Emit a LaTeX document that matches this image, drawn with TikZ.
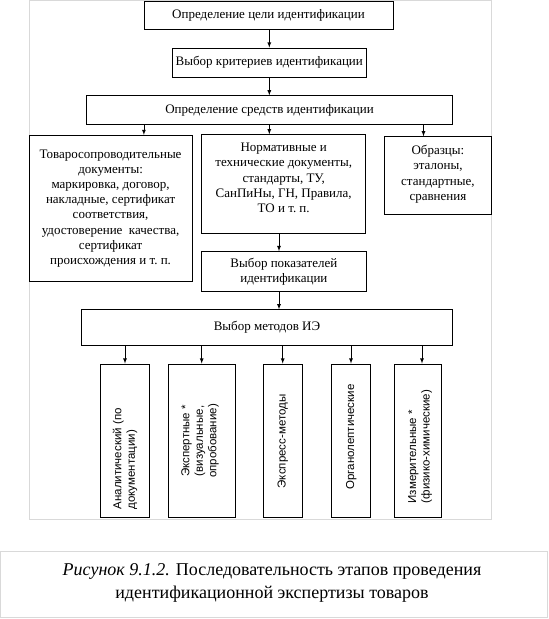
\documentclass[tikz,border=0pt]{standalone}
\usepackage{fontspec}
\setmainfont{Liberation Serif}
\newfontfamily\sansf{Liberation Sans}
\usetikzlibrary{positioning}
\tikzset{
  box/.style={draw,line width=.9pt,align=center,inner sep=2pt,
    font=\fontsize{13}{15.2}\selectfont},
  vbox/.style={draw,line width=.9pt,minimum height=153.5pt},
  vtext/.style={rotate=90,font=\sansf\fontsize{11.5}{13.5}\selectfont},
  frame/.style={draw=black!15,line width=.8pt}
}
\begin{document}
\begin{tikzpicture}[>=latex,x=1pt,y=-1pt,line width=.8pt]
  \useasboundingbox (0,0) rectangle (549,619);
  \draw[frame] (29,.5) rectangle (491.5,519);
  \draw[frame] (.5,551.5) rectangle (547.5,617);
  % upper chain
  \node[box,minimum width=249pt,minimum height=28pt] (goal) at (268.5,15.8) {Определение цели идентификации};
  \node[box,minimum width=193.4pt,minimum height=29.2pt] (crit) at (269.3,62.6) {Выбор критериев идентификации};
  \node[box,minimum width=366.3pt,minimum height=28.8pt] (means) at (269.5,110.2) {Определение средств идентификации};
  \draw[->] (goal.south -| crit.south) -- (crit.north);
  \draw[->] (crit.south) -- (means.north -| crit.south);
  % means of identification
  \node[box,minimum width=163.3pt,minimum height=146pt] (docs) at (110.6,208.4) {Товаросопроводительные\\документы:\\маркировка, договор,\\накладные, сертификат\\соответствия,\\удостоверение~ качества,\\сертификат\\происхождения и т.~п.};
  \node[box,minimum width=163.8pt,minimum height=98.3pt,text depth=12pt] (norm) at (283.7,183.9) {Нормативные и\\технические документы,\\стандарты, ТУ,\\СанПиНы, ГН, Правила,\\ТО и т.~п.};
  \node[box,minimum width=106.6pt,minimum height=77.2pt,text depth=5pt] (samp) at (437.9,175.4) {Образцы:\\эталоны,\\стандартные,\\сравнения};
  \coordinate (c1) at (143.9,0);
  \coordinate (c3) at (423.5,0);
  \draw[->] (means.south -| c1) -- (docs.north -| c1);
  \draw[->] (means.south -| crit.south) -- (norm.north -| crit.south);
  \draw[->] (means.south -| c3) -- (samp.north -| c3);
  \node[box,minimum width=164.2pt,minimum height=40pt] (ind) at (283.9,271.6) {Выбор показателей\\идентификации};
  \node[box,minimum width=371.2pt,minimum height=35.8pt] (meth) at (267,327.7) {Выбор методов ИЭ};
  \coordinate (c2) at (279,0);
  \draw[->] (norm.south -| c2) -- (ind.north -| c2);
  \draw[->] (ind.south -| c2) -- (meth.north -| c2);
  % methods
  \node[vbox,minimum width=48.3pt] (ma) at (124.85,440.75) {};
  \node[vbox,minimum width=67pt] (mb) at (201.5,440.75) {};
  \node[vbox,minimum width=39.7pt] (mc) at (282.85,440.75) {};
  \node[vbox,minimum width=39pt] (md) at (351.2,440.75) {};
  \node[vbox,minimum width=47.7pt] (me) at (417.85,440.75) {};
  \foreach \n/\x in {ma/125,mb/201.7,mc/282.7,md/351,me/422}
    \draw[->] (meth.south -| \x,0) -- (\n.north -| \x,0);
  \node[vtext,anchor=west,align=left] (ta) at (125,513) {Аналитический (по\\документации)};
  \node[vtext,align=center] (tb) at (200,441) {Экспертные *\\(визуальные,\\опробование)};
  \node[vtext] (tc) at (282.85,441.5) {Экспресс-методы};
  \node[vtext] (td) at (351.2,437) {Органолептические};
  \node[vtext,anchor=west,align=left] (te) at (420,507) {Измерительные *\\(физико-химические)};
  % caption
  \node[align=center,font=\fontsize{18}{22.4}\selectfont] (cap) at (272,583) {\textit{Рисунок 9.1.2.} Последовательность этапов проведения\\идентификационной экспертизы товаров};
\end{tikzpicture}
\end{document}
